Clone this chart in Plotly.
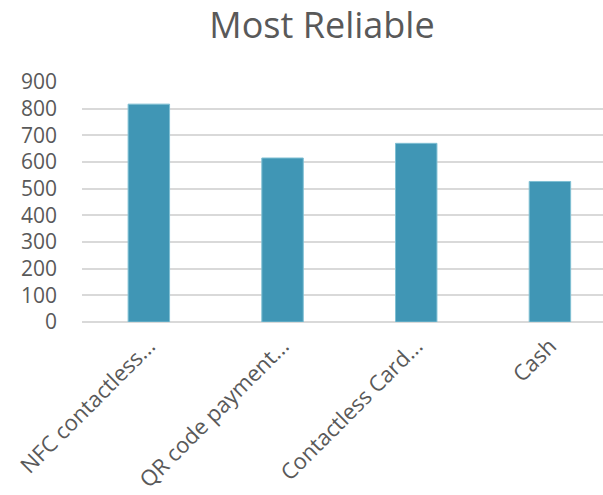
import plotly.graph_objects as go

categories = ["NFC contactless...", "QR code payment...", "Contactless Card...", "Cash"]
values = [817, 615, 670, 527]
y_ticks = [0, 100, 200, 300, 400, 500, 600, 700, 800, 900]

fig = go.Figure()
fig.add_trace(go.Bar(
    x=categories, y=values, width=0.31,
    marker=dict(color="#4096b5", line=dict(color="#7fbfd3", width=1)),
))

fig.update_layout(
    width=603, height=495,
    margin=dict(l=82, r=0, t=82, b=173),
    paper_bgcolor="white", plot_bgcolor="white",
    font=dict(family="Open Sans", color="#595959", size=21),
    title=dict(text="Most Reliable", x=0.534, xanchor="center", y=0.948, yanchor="middle",
               font=dict(size=36, color="#595959", family="Open Sans")),
    showlegend=False,
    bargap=0.69,
)
fig.update_xaxes(
    type="category", range=[-0.5, 3.397], showgrid=False, zeroline=False,
    showline=False, tickangle=-45, ticks="", ticklabelstandoff=6,
    tickfont=dict(size=22, color="#595959"),
)
fig.update_yaxes(
    range=[0, 900], tickvals=y_ticks, showgrid=True, gridcolor="#d9d9d9", gridwidth=1.5,
    zeroline=True, zerolinecolor="#d9d9d9", zerolinewidth=1.5, showline=False,
    ticks="", ticklabelstandoff=24, tickfont=dict(size=21, color="#595959"),
)

fig.write_html("out.html")
